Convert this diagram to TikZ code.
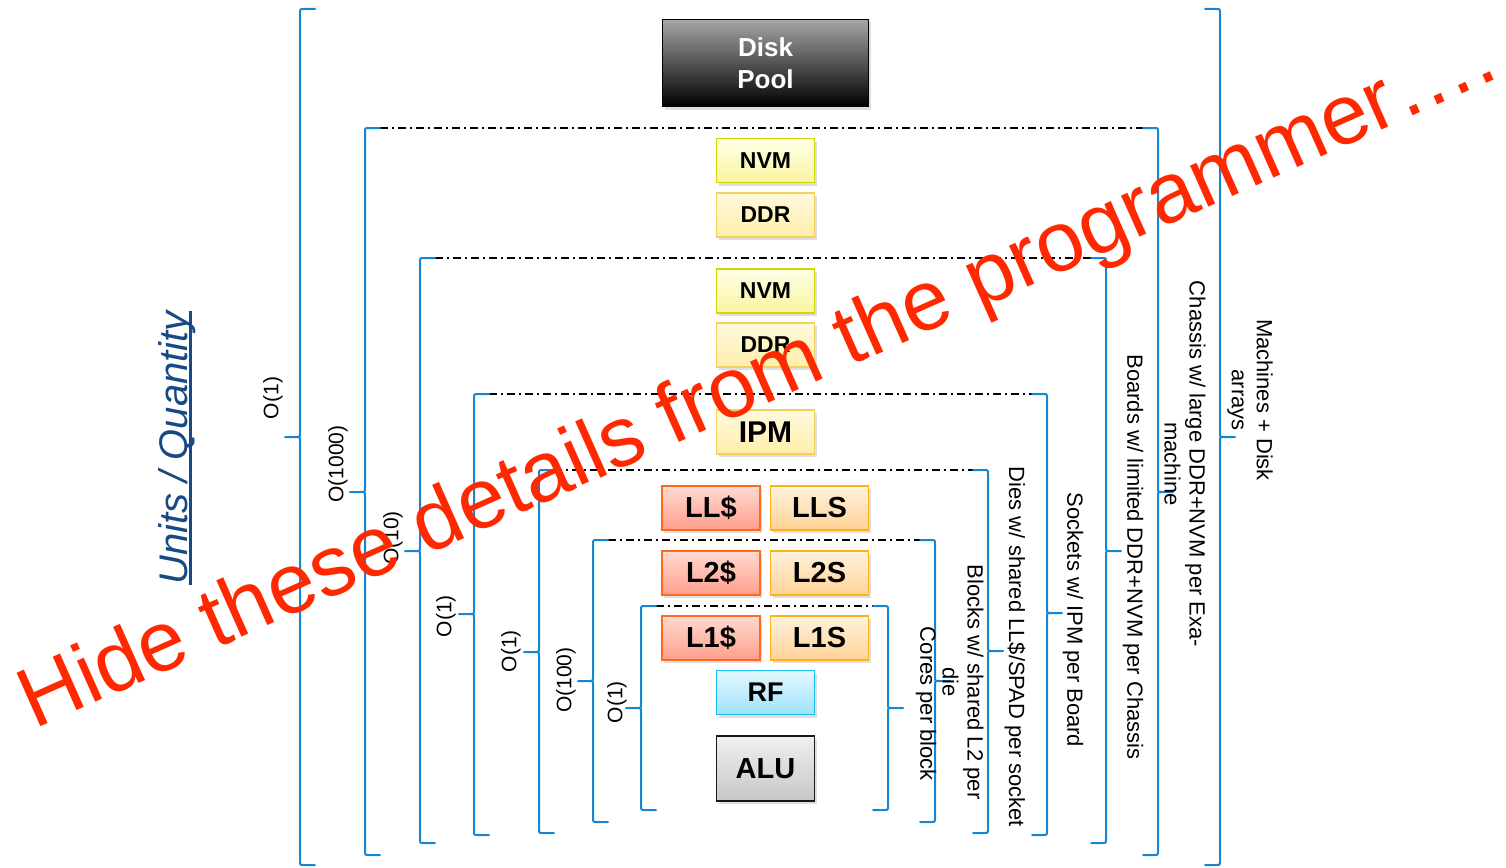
\documentclass[tikz,border=0pt]{standalone}
\usepackage{fontspec}
\setmainfont{Liberation Sans}
\usetikzlibrary{shadows}

\definecolor{braceblue}{RGB}{22,134,212}
\definecolor{unitsblue}{RGB}{23,74,133}
\definecolor{warnred}{RGB}{255,40,0}
\definecolor{nvmedge}{RGB}{208,216,0}
\definecolor{nvmtop}{RGB}{255,255,232}
\definecolor{nvmbot}{RGB}{250,244,160}
\definecolor{ddredge}{RGB}{244,208,96}
\definecolor{ddrtop}{RGB}{255,250,222}
\definecolor{ddrbot}{RGB}{255,238,170}
\definecolor{cacheedge}{RGB}{255,104,30}
\definecolor{cachetop}{RGB}{255,218,210}
\definecolor{cachebot}{RGB}{255,158,138}
\definecolor{spadedge}{RGB}{255,176,24}
\definecolor{spadtop}{RGB}{255,242,222}
\definecolor{spadbot}{RGB}{255,210,150}
\definecolor{rfedge}{RGB}{24,192,240}
\definecolor{rftop}{RGB}{228,248,255}
\definecolor{rfbot}{RGB}{158,226,250}

% left curly bracket: x, top y, tip y, bottom y
\newcommand{\bracketL}[4]{%
  \draw[brc] ({#1+15},#2) -- ({#1+4},#2) .. controls (#1,#2) .. (#1,{#2+4})
    -- (#1,{#3-4}) .. controls (#1,#3) .. ({#1-4},#3) -- ({#1-15},#3);
  \draw[brc] ({#1-4},#3) .. controls (#1,#3) .. (#1,{#3+4})
    -- (#1,{#4-4}) .. controls (#1,#4) .. ({#1+4},#4) -- ({#1+15},#4);
}
% right curly bracket: x, top y, tip y, bottom y
\newcommand{\bracketR}[4]{%
  \draw[brc] ({#1-15},#2) -- ({#1-4},#2) .. controls (#1,#2) .. (#1,{#2+4})
    -- (#1,{#3-4}) .. controls (#1,#3) .. ({#1+4},#3) -- ({#1+15},#3);
  \draw[brc] ({#1+4},#3) .. controls (#1,#3) .. (#1,{#3+4})
    -- (#1,{#4-4}) .. controls (#1,#4) .. ({#1-4},#4) -- ({#1-15},#4);
}

\begin{document}
\begin{tikzpicture}[x=1pt,y=-1pt,
  brc/.style={draw=braceblue,line width=2pt,line cap=round,line join=round},
  dd/.style={draw=black,line width=1.8pt,dash pattern=on 8pt off 4pt on 2pt off 4pt},
  box/.style={rectangle,line width=1.8pt,minimum width=98pt,minimum height=44pt,
    inner sep=0pt,font=\bfseries\fontsize{23}{26}\selectfont,
    drop shadow={shadow xshift=2pt,shadow yshift=-3pt,opacity=0.25}},
  nvmbox/.style={box,draw=nvmedge,top color=nvmtop,bottom color=nvmbot},
  ddrbox/.style={box,draw=ddredge,top color=ddrtop,bottom color=ddrbot},
  cachebox/.style={box,draw=cacheedge,top color=cachetop,bottom color=cachebot,
    font=\bfseries\fontsize{29}{32}\selectfont},
  spadbox/.style={box,draw=spadedge,top color=spadtop,bottom color=spadbot,
    font=\bfseries\fontsize{29}{32}\selectfont},
  rfbox/.style={box,draw=rfedge,top color=rftop,bottom color=rfbot,
    font=\bfseries\fontsize{27}{30}\selectfont},
  alubox/.style={box,draw=black!90,top color=black!6,bottom color=black!22,
    minimum height=65pt,font=\bfseries\fontsize{29}{32}\selectfont},
  diskbox/.style={box,draw=black,top color=black!35,bottom color=black,
    minimum width=206pt,minimum height=87pt,text=white,align=center,
    font=\bfseries\fontsize{26}{32}\selectfont},
  lbl/.style={font=\fontsize{21}{24}\selectfont,inner sep=0pt,rotate=90},
  rlbl/.style={font=\fontsize{22}{25}\selectfont,inner sep=0pt,rotate=-90,align=center},
]
\useasboundingbox (0,0) rectangle (1506,867);

% nesting levels: dash-dot separators
\draw[dd] (380,128) -- (1143,128);
\draw[dd] (435,258) -- (1091,258);
\draw[dd] (489,394) -- (1032,394);
\draw[dd] (554,470) -- (973,470);
\draw[dd] (608,540) -- (920,540);
\draw[dd] (656,606) -- (873,606);

% brackets on the left
\bracketL{300}{9}{437}{865}
\bracketL{365}{128}{492}{855}
\bracketL{420}{258}{551}{843}
\bracketL{474}{394}{614}{835}
\bracketL{539}{470}{652}{833}
\bracketL{593}{540}{681}{822}
\bracketL{641}{606}{708}{810}

% brackets on the right
\bracketR{1220}{9}{437}{865}
\bracketR{1158}{128}{492}{855}
\bracketR{1106}{258}{551}{843}
\bracketR{1047}{394}{613}{835}
\bracketR{988}{470}{651}{833}
\bracketR{935}{540}{681}{822}
\bracketR{888}{606}{708}{810}

% quantity labels
\node[lbl] (q1) at (273,398) {O(1)};
\node[lbl] (q2) at (338,464) {O(1000)};
\node[lbl] (q3) at (393,538) {O(10)};
\node[lbl] (q4) at (446,616) {O(1)};
\node[lbl] (q5) at (511,651) {O(1)};
\node[lbl] (q6) at (566,680) {O(100)};
\node[lbl] (q7) at (617,702) {O(1)};

% level descriptions
\node[rlbl] (d1) at (1250,400) {Machines + Disk\\arrays};
\node[rlbl] (d2) at (1185,464) {Chassis w/ large DDR+NVM per Exa-\\machine};
\node[rlbl] (d3) at (1133,557) {Boards w/ limited DDR+NVM per Chassis};
\node[rlbl] (d4) at (1073,620) {Sockets w/ IPM per Board};
\node[rlbl] (d5) at (1015,647) {Dies w/ shared LL\$/SPAD per socket};
\node[rlbl] (d6) at (963,682) {Blocks w/ shared L2 per\\die};
\node[rlbl] (d7) at (926,704) {Cores per block};

% axis title
\node[font=\itshape\fontsize{40}{44}\selectfont,text=unitsblue,inner sep=0pt,
  anchor=base,rotate=90] (units) at (187,448) {Units / Quantity};
\draw[unitsblue,line width=2.5pt] ([xshift=3.5pt]units.base west) -- ([xshift=3.5pt]units.base east);

% memory / compute blocks
\node[diskbox] (disk) at (765.5,63) {Disk\\Pool};
\node[nvmbox] (nvm1) at (765.5,160.5) {NVM};
\node[ddrbox] (ddr1) at (765.5,215) {DDR};
\node[nvmbox] (nvm2) at (765.5,291) {NVM};
\node[ddrbox] (ddr2) at (765.5,345) {DDR};
\node[ddrbox,font=\bfseries\fontsize{30}{33}\selectfont] (ipm) at (765.5,432) {IPM};
\node[cachebox] (llc) at (711,508) {LL\$};
\node[spadbox] (lls) at (819.5,508) {LLS};
\node[cachebox] (l2c) at (711,573) {L2\$};
\node[spadbox] (l2s) at (819.5,573) {L2S};
\node[cachebox] (l1c) at (711,638) {L1\$};
\node[spadbox] (l1s) at (819.5,638) {L1S};
\node[rfbox] (rf) at (765.5,692.5) {RF};
\node[alubox] (alu) at (765.5,768.5) {ALU};

% overlay note
\node[text=warnred,font=\fontsize{85}{90}\selectfont,inner sep=0pt,anchor=base west,
  rotate=24] (note) at (34,730) {Hide these details from the programmer….};
\end{tikzpicture}
\end{document}
